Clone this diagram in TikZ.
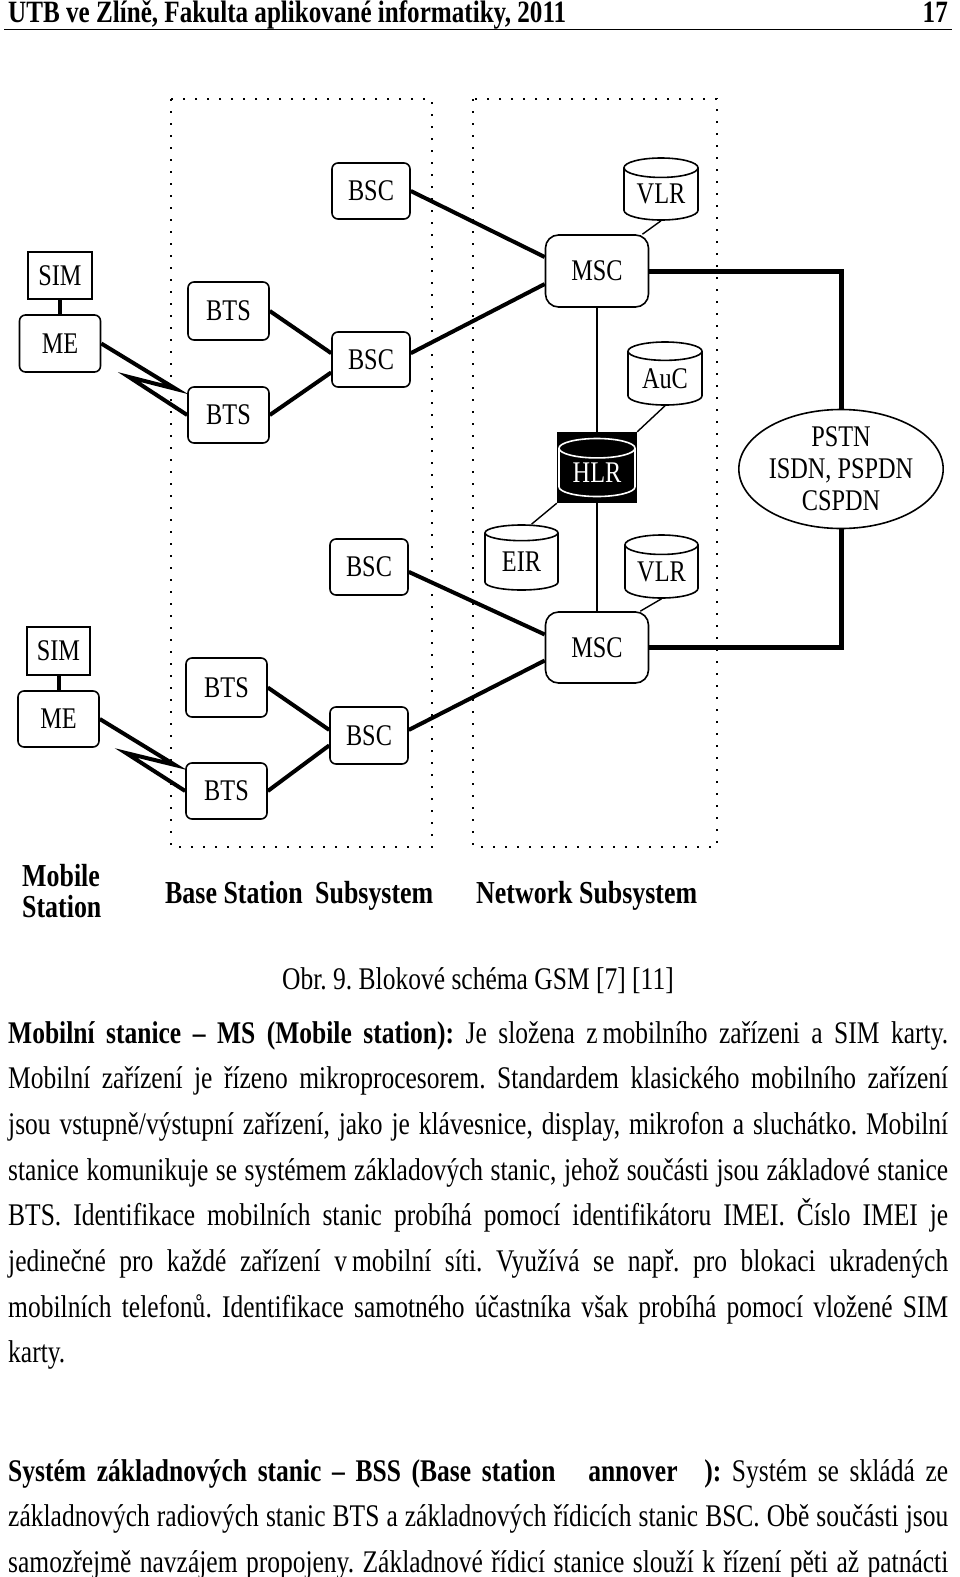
\documentclass[tikz,border=0pt]{standalone}
\usepackage{fontspec}
\setmainfont{Liberation Serif}[FakeStretch=0.81]
\usetikzlibrary{shapes.geometric,calc}
\frenchspacing

\newcommand\bodyfont{\fontsize{31.5}{45.7}\selectfont}
\newcommand\headfont{\fontsize{31}{34}\selectfont\bfseries}
\newcommand\unitfont{\fontsize{30}{32}\selectfont}
\newcommand\areafont{\fontsize{32}{31}\selectfont\bfseries}
\newcommand\fullline[3]{\node[bodyline] (#1) at (8,#2) {#3\parfillskip=0pt\par};}

\tikzset{
  unit/.style={draw, line width=1.6, rounded corners=6, inner sep=0pt, font=\unitfont},
  sw/.style={unit, rounded corners=13},
  db/.style={cylinder, shape border rotate=90, aspect=0.4, anchor=shape center, draw, line width=1.6, inner sep=0pt, font=\unitfont},
  link/.style={line width=4},
  wire/.style={line width=1.4},
  bolt/.style={line width=4, line join=miter, miter limit=25},
  area/.style={line width=2.6, dash pattern=on 2 off 10},
  bodyline/.style={anchor=base west, inner sep=0pt, text width=940, align=justify, font=\bodyfont},
}

\begin{document}
\begin{tikzpicture}[x=1pt,y=-1pt]
\fill[white] (0,0) rectangle (960,1577);
\useasboundingbox (0,0) rectangle (960,1577);

% page header
\node[anchor=base west, inner sep=0pt, font=\headfont] (hdr) at (8,22) {UTB ve Zlíně, Fakulta aplikované informatiky, 2011};
\node[anchor=base east, inner sep=0pt, font=\headfont] (pgno) at (948,22) {17};
\draw[line width=1.5] (4,29.5) -- (952,29.5);

% subsystems
\draw[area] (171,99) rectangle (432,847);
\draw[area] (473,99) rectangle (717,847);

% mobile stations
\node[unit, rounded corners=0, minimum width=64, minimum height=47] (sim1) at (60,275.5) {SIM};
\node[unit, minimum width=81, minimum height=57] (me1) at (60,343.5) {ME};
\node[unit, rounded corners=0, minimum width=63, minimum height=48] (sim2) at (58.5,651) {SIM};
\node[unit, minimum width=81, minimum height=56] (me2) at (58.5,719) {ME};

% base station subsystem
\node[unit, minimum width=81, minimum height=58] (bts1) at (228.5,311) {BTS};
\node[unit, minimum width=81, minimum height=56] (bts2) at (228.5,415) {BTS};
\node[unit, minimum width=78, minimum height=56] (bsct) at (371,191) {BSC};
\node[unit, minimum width=78, minimum height=55] (bscm) at (371,359.5) {BSC};
\node[unit, minimum width=78, minimum height=56] (bsc3) at (369,567) {BSC};
\node[unit, minimum width=78, minimum height=57] (bsc4) at (369,735.5) {BSC};
\node[unit, minimum width=81, minimum height=59] (bts3) at (226.5,687.5) {BTS};
\node[unit, minimum width=81, minimum height=56] (bts4) at (226.5,791) {BTS};

% network subsystem
\node[sw, minimum width=103, minimum height=72] (msc1) at (597,271) {MSC};
\node[sw, minimum width=103, minimum height=71] (msc2) at (597,647.5) {MSC};
\node[db, minimum width=74, minimum height=62] (vlr1) at (661,189) {VLR};
\node[db, minimum width=74, minimum height=63] (auc) at (665,373.5) {AuC};
\node[fill=black, minimum width=80, minimum height=71, inner sep=0pt] (hlr) at (597,467.5) {};
\node[db, draw=white, text=white, minimum width=76, minimum height=58] (hlrdb) at (hlr.center) {HLR};
\node[db, minimum width=73, minimum height=65] (eir) at (521.5,557.5) {EIR};
\node[db, minimum width=73, minimum height=63] (vlr2) at (661.5,566.5) {VLR};
\node[ellipse, draw, line width=1.6, minimum width=202, minimum height=108, inner sep=0pt,
  align=center, font=\unitfont] (pstn) at (841,469) {PSTN\\ISDN, PSPDN\\CSPDN};

% links
\draw[link] (sim1) -- (me1);
\draw[link] (sim2) -- (me2);
\draw[bolt] (me1.east) -- (176,389) -- (129,377) -- (bts2.west);
\draw[bolt] (me2.east) -- (175,765) -- (126,753) -- (bts4.west);
\draw[link] (bts1.east) -- (bscm.171);
\draw[link] (bts2.east) -- (bscm.198);
\draw[link] (bts3.east) -- (bsc4.172);
\draw[link] (bts4.east) -- (bsc4.194);
\draw[link] (bsct.east) -- (msc1.165);
\draw[link] (bscm.9) -- (msc1.194);
\draw[link] (bsc3.353) -- (msc2.166);
\draw[link] (bsc4.8) -- (msc2.194);
\draw[link, line width=5] (msc1.east) -| (pstn.north);
\draw[link, line width=5] (msc2.east) -| (pstn.south);
\draw[wire] (msc1.south) -- (hlr.north);
\draw[wire] (hlr.south) -- (msc2.north);
\draw[wire] (vlr1.south) -- (msc1.39);
\draw[wire] (vlr2.south) -- (msc2.40);
\draw[wire] (auc.south) -- (hlr.north east);
\draw[wire] ([xshift=10]eir.north) -- (hlr.south west);

% area labels
\node[anchor=west, align=left, inner sep=0pt, font=\areafont] (mslabel) at (22,891) {Mobile\\Station};
\node[anchor=west, inner sep=0pt, font=\areafont] (bsslabel) at (165,896) {Base Station\hspace{6pt} Subsystem};
\node[anchor=west, inner sep=0pt, font=\areafont] (nsslabel) at (476,896) {Network Subsystem};

% caption and text
\node[anchor=base, inner sep=0pt, font=\bodyfont] (caption) at (478,989) {Obr. 9. Blokové schéma GSM [7] [11]};
\fullline{ms1}{1043}{\textbf{Mobilní stanice – MS (Mobile station):} Je složena z\hspace{5pt}mobilního zařízeni a SIM karty.}
\fullline{ms2}{1088.7}{Mobilní zařízení je řízeno mikroprocesorem. Standardem klasického mobilního zařízení}
\fullline{ms3}{1134.4}{jsou vstupně/výstupní zařízení, jako je klávesnice, display, mikrofon a sluchátko. Mobilní}
\fullline{ms4}{1180.1}{stanice komunikuje se systémem základových stanic, jehož součásti jsou základové stanice}
\fullline{ms5}{1225.8}{BTS. Identifikace mobilních stanic probíhá pomocí identifikátoru IMEI. Číslo IMEI je}
\fullline{ms6}{1271.5}{jedinečné pro každé zařízení v\hspace{5pt}mobilní síti. Využívá se např. pro blokaci ukradených}
\fullline{ms7}{1317.2}{mobilních telefonů. Identifikace samotného účastníka však probíhá pomocí vložené SIM}
\node[anchor=base west, inner sep=0pt, font=\bodyfont] (ms8) at (8,1362.9) {karty.};
\fullline{bss1}{1481}{\textbf{Systém základnových stanic – BSS (Base station\hspace{22pt} annover\hspace{16pt} ):} Systém se skládá ze}
\fullline{bss2}{1526.7}{základnových radiových stanic BTS a základnových řídicích stanic BSC. Obě součásti jsou}
\fullline{bss3}{1572.2}{samozřejmě navzájem propojeny. Základnové řídicí stanice slouží k řízení pěti až patnácti}
\end{tikzpicture}
\end{document}
